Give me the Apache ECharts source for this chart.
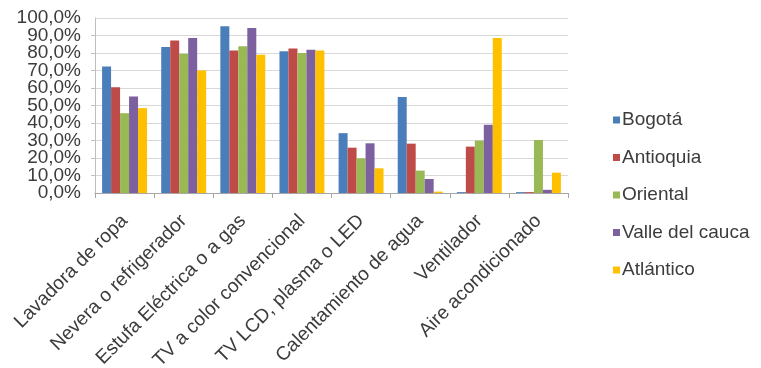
<!DOCTYPE html>
<html>
<head>
<meta charset="utf-8">
<script src="https://cdn.jsdelivr.net/npm/echarts@6/dist/echarts.min.js"></script>
<style>
html,body{margin:0;padding:0;background:#fff;}
#c{width:761px;height:368px;}
</style>
</head>
<body>
<div id="c"></div>
<script>
const categories = ["Lavadora de ropa","Nevera o refrigerador","Estufa Eléctrica o a gas","TV a color convencional","TV LCD, plasma o LED","Calentamiento de agua","Ventilador","Aire acondicionado"];
const seriesNames = ["Bogotá","Antioquia","Oriental","Valle del cauca","Atlántico"];
const bogota    = [72.3, 83.5, 95.3, 81.0, 34.2, 54.8, 0.5, 0.5];
const antioquia = [60.5, 87.2, 81.5, 82.6, 25.9, 28.2, 26.5, 0.5];
const oriental  = [45.6, 79.6, 83.8, 80.0, 19.8, 12.8, 30.0, 30.3];
const valle     = [55.1, 88.6, 94.3, 81.9, 28.4, 8.0, 39.0, 1.8];
const atlantico = [48.5, 70.0, 79.0, 81.5, 14.1, 0.8, 88.6, 11.6];
const yTicks = [0,10,20,30,40,50,60,70,80,90,100];
const colors = ["#4A7EBB","#BE4B48","#98B954","#7D60A0","#FFC000"];

const values = [bogota, antioquia, oriental, valle, atlantico];
const chart = echarts.init(document.getElementById('c'));
const txt = '#3c3c3c';
const fmt = v=>v.toFixed(1).replace('.',',')+'%';
const yMin = yTicks[0], yMax = yTicks[yTicks.length-1];
chart.setOption({
  animation:false,
  color: colors,
  textStyle:{fontFamily:'Liberation Sans, Arial, sans-serif'},
  grid:{left:95, right:193, top:18, bottom:175, containLabel:false, outerBoundsMode:'none'},
  legend:{
    orient:'vertical', left:608, top:105,
    itemWidth:7, itemHeight:7, itemGap:17.5, icon:'rect',
    textStyle:{fontSize:19, color:txt, lineHeight:20, padding:[0,0,0,-3]},
    data: seriesNames
  },
  xAxis:{
    type:'category', data:categories,
    axisLine:{lineStyle:{color:'#a6a6a6'}},
    axisTick:{show:true, length:5, lineStyle:{color:'#a6a6a6'}},
    axisLabel:{rotate:45, fontSize:19.3, color:txt, margin:25, interval:0, hideOverlap:false}
  },
  yAxis:[{
    type:'value', min:yMin, max:yMax, interval:10, position:'left',
    axisLine:{show:true, lineStyle:{color:'#bfbfbf'}},
    axisTick:{show:true, length:4, lineStyle:{color:'#bfbfbf'}},
    splitLine:{lineStyle:{color:'#d9d9d9'}},
    axisLabel:{fontSize:19, color:txt, margin:14, showMinLabel:false, showMaxLabel:false, formatter:fmt}
  },{
    type:'value', min:yMin, max:yMax, interval:100, position:'left', offset:0,
    axisLine:{show:false}, axisTick:{show:false}, splitLine:{show:false},
    axisLabel:{fontSize:19, color:txt, margin:14, showMinLabel:true, showMaxLabel:true, formatter:fmt}
  }],
  series: seriesNames.map((n,i)=>({
    name:n, type:'bar', data:values[i], yAxisIndex:0,
    barGap:'0%', barCategoryGap:'24%'
  }))
});
</script>
</body>
</html>
